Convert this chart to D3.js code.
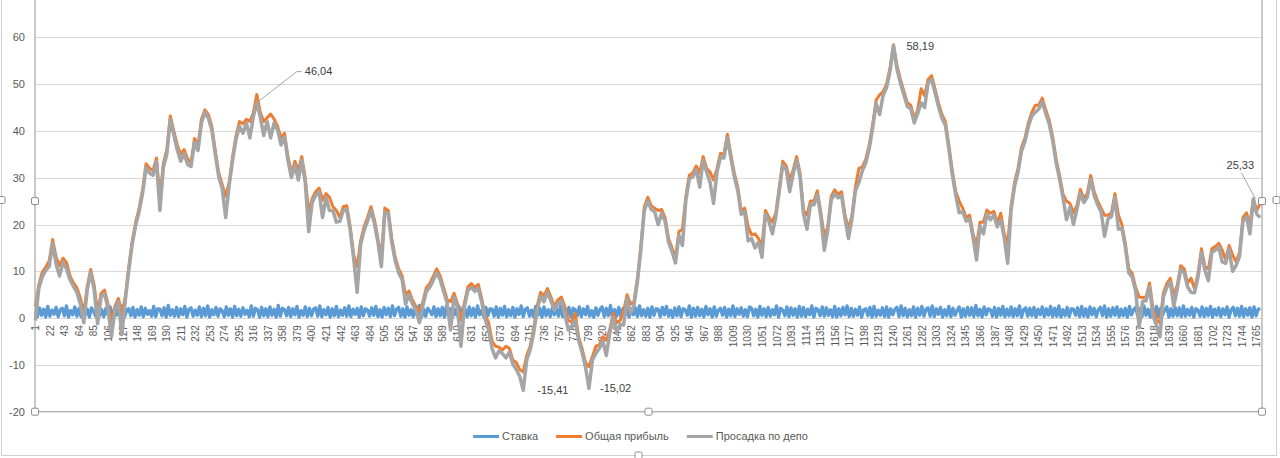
<!DOCTYPE html>
<html>
<head>
<meta charset="utf-8">
<script src="https://cdn.jsdelivr.net/npm/d3@7"></script>
<style>
body{margin:0;background:#fff;}
text{font-family:"Liberation Sans",Arial,sans-serif;}
</style>
</head>
<body>
<svg id="graph" width="1280" height="458"></svg>
<script>
var nbCat = 1773;   // nombre de points sur l'axe X
var pas = 5;        // прибыль / просадка : une valeur lue tous les 5 points
var pasStavka = 3;  // ставка : une valeur lue tous les 3 points
var pasTick = 21;   // une etiquette tous les 21 points
var yTicks = [-20,-10,0,10,20,30,40,50,60];
var nomSeries = ["Ставка","Общая прибыль","Просадка по депо"];
var couleurs = ["#5B9BD5","#ED7D31","#A5A5A5"];

// Ставка
var stavka = [
1.4,0.3,2.2,0.6,1.9,0.2,2.5,0.4,1.7,0.8,
2.3,0.3,1.8,2.1,0.5,2.6,0.2,1.6,0.7,2.4,
0.4,2.0,0.3,2.7,0.6,1.9,0.2,2.2,1.5,0.4,
2.5,0.5,1.8,0.3,2.1,0.7,2.4,0.2,1.9,0.6,
2.2,0.4,2.6,0.3,1.7,2.0,0.5,2.3,0.2,1.8,
0.6,2.4,0.3,2.1,0.8,1.6,0.4,2.5,0.3,2.0,
1.9,0.5,2.2,0.2,2.7,0.6,1.8,0.4,2.3,0.3,
2.0,0.7,2.5,0.2,1.9,2.2,0.4,1.7,0.6,2.4,
0.3,2.1,0.5,2.6,0.2,1.8,0.7,2.3,0.4,2.0,
1.6,0.3,2.4,0.6,2.0,0.2,2.5,0.5,1.9,0.4,
2.2,0.8,1.7,0.3,2.6,0.4,2.1,1.8,0.2,2.3,
0.5,2.0,0.3,2.4,0.6,1.9,0.2,2.7,0.4,2.1,
1.8,0.5,2.3,0.3,2.0,0.7,2.5,0.2,1.6,0.6,
2.4,0.3,2.1,0.5,1.9,2.2,0.4,2.6,0.3,1.8,
0.7,2.3,0.2,2.0,0.5,2.5,0.3,1.7,0.6,2.2,
0.4,2.6,0.3,1.9,0.8,2.1,0.2,2.4,0.5,2.0,
1.7,0.4,2.2,0.6,2.5,0.3,1.8,0.2,2.3,0.7,
2.1,0.3,2.6,0.5,1.9,2.3,0.4,2.0,0.2,2.4,
0.6,1.8,0.3,2.2,0.5,2.7,0.2,1.9,0.4,2.1,
1.5,0.7,2.4,0.3,2.0,0.5,2.3,0.2,2.6,0.4,
2.0,0.3,1.8,0.6,2.5,0.4,2.2,1.9,0.3,2.4,
0.5,2.1,0.2,2.6,0.7,1.7,0.3,2.3,0.5,2.0,
1.9,0.4,2.4,0.2,2.1,0.6,2.5,0.3,1.8,0.5,
2.3,0.2,2.0,0.8,2.6,0.3,1.9,2.2,0.4,1.7,
0.3,2.5,0.6,2.1,0.2,2.4,0.5,1.8,0.3,2.2,
0.7,2.0,0.4,2.6,0.3,1.9,0.6,2.3,0.2,2.1,
1.8,0.5,2.4,0.3,2.0,0.7,2.5,0.4,1.6,0.2,
2.2,0.6,1.9,2.4,0.3,2.1,0.5,2.7,0.2,1.8,
0.4,2.3,0.3,2.0,0.6,2.5,0.2,1.9,0.7,2.2,
0.3,2.6,0.5,1.8,0.4,2.1,0.2,2.4,0.6,2.0,
1.9,0.3,2.3,0.7,2.5,0.4,1.7,0.2,2.2,0.5,
2.4,0.3,2.0,1.8,0.6,2.6,0.2,2.1,0.4,2.3,
0.5,1.9,0.3,2.5,0.7,2.0,0.2,2.4,0.4,1.7,
2.1,0.6,2.3,0.2,1.9,0.5,2.6,0.3,2.0,0.8,
2.2,0.4,1.8,0.3,2.4,2.1,0.5,1.9,0.2,2.5,
0.6,2.0,0.3,2.3,0.4,1.8,0.7,2.6,0.2,2.1,
1.7,0.5,2.4,0.3,2.2,0.6,2.0,0.2,2.5,0.4,
2.3,0.3,1.9,0.7,2.6,0.2,2.1,1.8,0.5,2.4,
0.4,2.2,0.6,1.8,0.3,2.5,0.2,2.0,0.5,2.3,
0.7,2.6,0.3,2.1,0.4,1.9,0.6,2.4,0.2,1.8,
2.0,0.5,2.3,0.2,2.5,0.4,1.7,0.6,2.2,0.3,
2.4,0.2,2.0,0.7,1.9,2.3,0.3,2.6,0.5,2.1,
0.3,1.8,0.5,2.4,0.2,2.1,0.6,2.5,0.4,1.9,
2.2,0.4,2.6,0.3,2.0,0.8,2.3,0.2,1.8,0.5,
2.5,0.3,2.1,0.6,1.7,2.4,0.2,2.0,0.4,2.3,
0.6,2.2,0.3,2.7,0.5,1.9,0.2,2.4,0.7,2.0,
1.8,0.4,2.3,0.2,2.1,0.6,2.5,0.3,1.9,0.5,
2.4,0.3,2.0,0.5,2.6,0.2,1.8,2.2,0.4,2.1,
0.5,2.3,0.2,1.9,0.7,2.4,0.3,2.0,0.6,2.5,
0.3,2.1,0.4,2.6,0.2,1.8,0.5,2.3,0.3,2.0,
1.9,0.6,2.2,0.3,2.5,0.4,2.0,0.2,2.4,0.7,
2.1,0.3,1.8,2.3,0.5,2.6,0.2,2.0,0.4,2.2,
0.6,2.4,0.3,1.9,0.5,2.1,0.2,2.5,0.7,1.8,
2.3,0.4,2.0,0.3,2.6,0.6,1.9,0.2,2.2,0.5,
2.5,0.3,2.1,0.7,1.8,2.4,0.2,2.0,0.4,2.3,
0.5,2.2,0.3,2.6,0.4,1.9,0.6,2.3,0.2,2.0,
1.7,0.4,2.4,0.3,2.1,0.5,2.5,0.2,1.9,0.6,
2.2,0.3,2.0,0.7,2.4,0.2,1.8,2.3,0.5,2.1,
0.4,2.5,0.3,2.0,0.6,2.2,0.2,2.4,0.5,1.9,
2.1
];

// Общая прибыль
var pribyl = [
2.5,7.1,9.8,10.9,12.2,16.8,13.0,11.2,12.8,11.9,
9.0,7.5,6.5,4.3,1.0,6.8,10.4,7.0,1.2,5.3,
6.0,3.0,-0.8,2.5,4.2,1.0,4.5,11.0,16.5,20.5,
23.5,27.5,33.0,32.0,31.5,34.2,26.0,33.0,36.0,43.2,
40.0,37.0,35.0,36.0,34.0,33.2,38.4,36.8,42.5,44.5,
43.5,41.0,35.8,31.0,28.5,26.0,29.0,34.5,39.0,42.0,
41.5,42.5,42.0,43.8,47.8,44.0,42.0,42.8,43.6,42.5,
41.0,38.5,39.5,34.5,31.0,33.5,31.5,34.5,30.0,22.5,
25.5,27.0,27.8,25.2,26.6,25.8,23.8,23.0,21.5,23.8,
24.0,19.5,13.5,11.0,16.5,19.5,21.5,23.8,21.0,17.0,
13.0,23.5,23.0,17.0,13.0,10.5,9.0,5.0,5.8,3.8,
2.5,1.5,3.5,6.5,7.4,8.9,10.5,9.0,6.5,4.0,
3.5,5.3,3.0,-0.5,3.2,6.7,7.4,6.5,7.2,4.2,
0.5,-1.0,-5.0,-6.0,-6.2,-6.8,-6.0,-6.5,-9.0,-9.5,
-11.0,-11.5,-8.0,-6.0,-2.5,2.5,5.5,4.8,6.3,4.5,
2.5,3.9,4.5,2.5,-0.5,-0.8,1.0,-4.0,-6.5,-9.5,
-10.4,-8.2,-6.0,-5.7,-4.0,-4.7,-2.5,1.0,-1.0,-0.5,
1.5,5.0,3.0,3.5,8.5,15.5,23.8,25.8,24.0,23.5,
23.0,23.2,21.5,17.0,15.0,13.0,18.5,19.0,26.0,30.5,
31.0,32.5,31.0,34.5,32.0,31.2,29.5,32.0,35.2,35.0,
39.3,35.0,31.0,28.0,23.0,23.5,19.5,17.8,18.0,17.0,
15.5,23.0,21.5,20.5,22.5,28.0,33.5,32.5,29.5,31.6,
34.5,31.0,23.0,22.0,25.0,25.0,27.2,22.5,17.5,19.5,
26.0,27.4,26.5,27.0,22.0,19.0,22.0,28.0,32.0,32.3,
34.0,37.0,41.5,46.6,47.7,48.4,50.0,53.5,58.4,54.0,
51.0,48.5,46.0,45.5,42.5,44.5,49.0,47.5,51.0,51.8,
49.0,46.0,43.5,42.0,37.0,31.5,27.0,25.0,23.5,21.5,
22.0,18.0,15.5,20.5,20.5,23.1,22.4,22.8,20.3,22.4,
18.0,16.0,24.0,29.0,32.0,36.5,38.5,41.8,44.0,45.5,
45.5,47.0,44.5,42.3,38.8,34.0,30.5,26.5,25.0,24.5,
22.5,24.0,27.5,25.5,26.6,30.5,27.0,25.0,23.5,22.0,
22.0,22.5,26.6,22.0,20.0,16.0,10.5,9.5,6.5,4.5,
4.4,4.5,7.5,2.0,-0.4,-1.0,5.3,7.4,8.5,4.8,
7.0,11.2,10.5,7.5,8.5,6.2,9.5,14.8,11.0,10.5,
14.8,15.3,16.0,14.5,12.5,15.5,13.5,12.0,14.0,21.5,
22.5,20.0,25.5,23.0,24.5
];

// Просадка по депо
var prosadka = [
-0.5,6.3,8.8,10.2,11.0,16.0,11.5,9.0,12.0,10.5,
8.2,6.8,5.5,3.0,-1.0,6.0,9.8,6.0,-1.2,4.5,
5.3,2.0,-4.0,1.8,3.5,-3.5,3.8,10.2,15.8,19.8,
22.8,26.7,32.2,31.0,30.5,33.4,23.0,32.2,35.0,42.4,
39.2,36.0,33.5,35.2,32.8,32.4,37.6,35.8,41.7,44.0,
42.7,40.2,35.0,30.2,27.7,21.5,28.2,33.7,38.2,41.0,
39.5,41.7,38.5,43.0,46.04,43.0,39.0,42.0,38.5,41.7,
40.2,37.0,38.7,33.7,30.0,32.7,29.5,33.7,29.0,18.5,
24.7,26.2,27.0,21.5,25.8,23.0,23.0,20.5,20.7,23.0,
23.2,18.7,12.7,5.5,15.7,18.7,20.7,23.0,20.2,16.2,
11.0,22.7,22.2,16.2,12.2,9.7,8.2,3.0,5.0,3.0,
1.7,-1.0,2.7,5.7,6.6,8.1,9.7,8.2,5.7,3.2,
-2.5,4.5,2.2,-6.0,2.4,5.9,6.6,5.7,6.4,3.4,
-0.3,-2.5,-6.5,-8.5,-7.0,-7.6,-8.5,-7.3,-9.8,-11.0,
-12.5,-15.41,-9.0,-6.8,-3.3,1.7,4.7,3.5,5.5,3.7,
1.7,3.1,3.7,1.0,-2.5,-1.6,-0.5,-4.8,-7.3,-10.5,
-15.02,-9.0,-7.5,-6.5,-4.8,-8.0,-3.3,0.2,-3.0,-1.3,
-1.5,4.2,1.0,2.7,7.7,14.7,23.0,25.0,23.2,22.7,
20.0,22.4,20.7,16.2,14.2,11.8,17.7,15.5,25.2,29.7,
30.2,31.7,28.0,33.7,31.2,29.0,24.5,31.2,34.4,34.2,
38.5,34.2,30.2,27.2,22.2,22.7,16.5,17.0,15.0,16.2,
13.0,22.2,20.7,18.0,21.7,27.2,32.7,31.7,27.0,30.8,
33.7,30.2,22.2,19.0,24.2,24.2,26.4,21.7,14.5,18.7,
25.2,26.6,25.7,26.2,21.2,17.0,21.2,27.2,29.0,31.5,
33.2,36.2,40.7,45.8,43.5,47.6,49.2,52.7,58.19,53.2,
50.2,47.7,45.2,44.7,41.7,43.7,46.0,45.0,50.2,51.0,
48.2,45.2,42.7,41.2,36.2,30.7,26.2,22.5,22.7,20.7,
21.2,17.2,12.4,19.7,18.0,22.3,21.0,22.0,19.5,21.0,
17.2,11.7,23.2,28.2,31.2,35.7,37.7,41.0,43.2,44.0,
44.7,46.2,43.7,41.5,38.0,33.2,29.7,25.7,21.0,23.7,
20.0,23.2,26.7,24.7,25.8,29.7,26.2,24.2,22.7,17.5,
21.2,21.7,25.8,19.0,19.2,15.2,9.7,8.7,5.7,-2.0,
3.6,3.7,6.7,0.5,-1.5,-4.0,4.5,6.6,7.7,2.5,
6.2,10.4,9.7,6.7,5.5,5.4,8.7,14.0,10.2,8.0,
14.0,14.5,15.2,12.0,11.7,14.7,10.0,11.2,13.2,20.7,
21.7,18.0,25.33,22.2,21.5
];

// indices des points de prosadka qui portent une etiquette
var idxEtiquettes = [64,248,141,160,352];

var svg = d3.select("#graph");
var gauche = 35, droite = 1262, bas = 411.7, haut = -9.5;

var scaleX = d3.scaleLinear().domain([0.5, nbCat+0.5]).range([gauche, droite]);
var scaleY = d3.scaleLinear().domain([-20, 70]).range([bas, haut]);

function poignee(x,y){
	svg.append("rect").attr("x",x-3.5).attr("y",y-3.5).attr("width",7).attr("height",7)
		.attr("rx",1.5).attr("fill","#fff").attr("stroke","#8c8c8c").attr("stroke-width",1);
}

// cadre du graphique
svg.append("rect").attr("x",1.5).attr("y",-60).attr("width",1275).attr("height",515.5)
	.attr("fill","none").attr("stroke","#d0d0d0");

// grille horizontale
svg.append("g").selectAll("line").data(yTicks.slice(1)).enter().append("line")
	.attr("x1",gauche).attr("x2",droite)
	.attr("y1",function(d){return Math.round(scaleY(d))+0.5;})
	.attr("y2",function(d){return Math.round(scaleY(d))+0.5;})
	.attr("stroke","#d9d9d9").attr("stroke-width",1);

// Axe Y
var gY = svg.append("g").attr("transform","translate("+gauche+",0)")
	.call(d3.axisLeft(scaleY).tickValues(yTicks).tickSize(0).tickPadding(10)
		.tickFormat(function(d){ return String(d); }));
gY.select(".domain").remove();
gY.selectAll("text").attr("fill","#595959").attr("font-size",11)
	.style("font-family","'Liberation Sans',Arial,sans-serif");

// Axe X (étiquettes verticales)
var gX = svg.append("g").attr("transform","translate(0,"+scaleY(0)+")")
	.call(d3.axisBottom(scaleX).tickValues(d3.range(1,nbCat+1,pasTick)).tickSize(0)
		.tickFormat(function(d){ return String(d); }));
gX.select(".domain").remove();
gX.selectAll("text").attr("transform","rotate(-90)").attr("text-anchor","end")
	.attr("x",-7).attr("y",0).attr("dy","0.35em")
	.attr("fill","#595959").attr("font-size",10)
	.style("font-family","'Liberation Sans',Arial,sans-serif");

// courbes
function ligne(p){
	return d3.line()
		.x(function(d,i){ return scaleX(1+i*p); })
		.y(function(d){ return scaleY(d); });
}
var series = [stavka, pribyl, prosadka];
var pasSeries = [pasStavka, pas, pas];
var epaisseurs = [3.3, 3, 3.5];
for (var k=0;k<series.length;k++){
	svg.append("path").attr("d",ligne(pasSeries[k])(series[k]))
		.attr("fill","none").attr("stroke",couleurs[k])
		.attr("stroke-width",epaisseurs[k]).attr("stroke-linejoin","round");
}

// cadre de la zone de tracé
svg.append("rect").attr("x",gauche).attr("y",haut).attr("width",droite-gauche).attr("height",bas-haut)
	.attr("fill","none").attr("stroke","#a6a6a6").attr("stroke-width",1.2);

// etiquettes de données
var decal = [[48,-31],[13,0],[14,0],[11,0],[-13,-34]];
idxEtiquettes.forEach(function(idx,j){
	var px = scaleX(1+idx*pas), py = scaleY(prosadka[idx]);
	var tx = px+decal[j][0], ty = py+decal[j][1];
	var txt = prosadka[idx].toFixed(2).replace(".",",");
	if (j==0){
		svg.append("polyline").attr("points",px+","+py+" "+(tx-8)+","+ty+" "+(tx-3)+","+ty)
			.attr("fill","none").attr("stroke","#a6a6a6");
	}
	if (j==4){
		svg.append("line").attr("x1",tx+1).attr("y1",ty+7).attr("x2",px+2).attr("y2",py-1)
			.attr("stroke","#a6a6a6");
	}
	svg.append("text").attr("x",tx).attr("y",ty).attr("dy","0.35em")
		.attr("text-anchor", j==4 ? "middle" : "start")
		.attr("font-size",11).attr("fill","#404040").text(txt);
});

// poignées de sélection
var midY = (haut+bas)/2;
poignee(gauche,midY); poignee(gauche,bas); poignee((gauche+droite)/2,bas);
poignee(droite,bas); poignee(droite,midY);
poignee(1.5,200); poignee(638.5,455.5); poignee(1276.5,200);

// légende centrée
var gL = svg.append("g");
var xCur = 0, ecart = 18;
for (var k=0;k<nomSeries.length;k++){
	var it = gL.append("g").attr("transform","translate("+xCur+",0)");
	it.append("line").attr("x1",0).attr("x2",26).attr("y1",0).attr("y2",0)
		.attr("stroke",couleurs[k]).attr("stroke-width",3);
	var t = it.append("text").attr("x",29).attr("y",0).attr("dy","0.35em")
		.attr("font-size",11).attr("fill","#595959").text(nomSeries[k]);
	xCur += 29 + t.node().getComputedTextLength() + ecart;
}
var largeur = xCur - ecart;
gL.attr("transform","translate("+(640.5-largeur/2)+",436.5)");
</script>
</body>
</html>
